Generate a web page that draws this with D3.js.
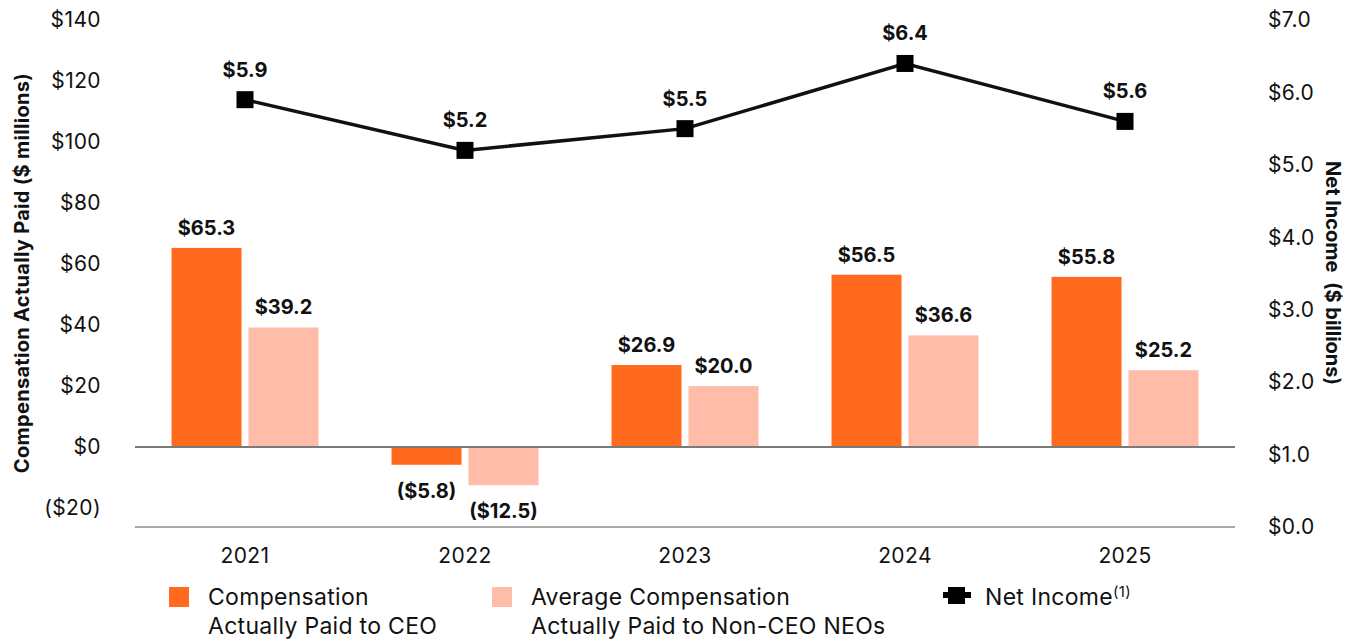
<!DOCTYPE html>
<html>
<head>
<meta charset="utf-8">
<script src="https://cdn.jsdelivr.net/npm/d3@7"></script>
<style>
  html, body { margin: 0; padding: 0; background: #fff; }
  svg { display: block; font-family: Inter, "Open Sans", sans-serif; }
</style>
</head>
<body>
<svg id="chart" width="1346" height="639"></svg>
<script>
// Fiscal years shown on the x axis
const years = ["2021", "2022", "2023", "2024", "2025"];
// Compensation actually paid ($ millions)
const ceoPay = [65.3, -5.8, 26.9, 56.5, 55.8];
const neoPay = [39.2, -12.5, 20.0, 36.6, 25.2];
// Net income ($ billions)
const netIncome = [5.9, 5.2, 5.5, 6.4, 5.6];
// Axis tick values
const leftTicks = [-20, 0, 20, 40, 60, 80, 100, 120, 140];
const rightTicks = [0, 1, 2, 3, 4, 5, 6, 7];

const ORANGE = "#ff6a1f";
const PEACH = "#ffbca8";

const svg = d3.select("#chart");
const plotLeft = 135, plotRight = 1235, plotTop = 20, plotBottom = 527;

const x = d3.scaleBand().domain(years).range([plotLeft, plotRight]).padding(0);
const yL = d3.scaleLinear().domain([-26.2, 140]).range([plotBottom, plotTop]);
const yR = d3.scaleLinear().domain([0, 7]).range([plotBottom, plotTop]);

const money = v => v < 0 ? `($${Math.abs(v).toFixed(1)})` : `$${v.toFixed(1)}`;
const moneyInt = v => v < 0 ? `($${Math.abs(v)})` : `$${v}`;

const tickStyle = sel => sel.attr("font-size", 21).attr("fill", "#111")
  .attr("font-family", "Inter").attr("letter-spacing", "0.4px");

// Left axis (tick labels only)
const leftAxis = svg.append("g")
  .attr("transform", `translate(${plotLeft - 34},0)`)
  .call(d3.axisLeft(yL).tickValues(leftTicks).tickSize(0).tickPadding(0).tickFormat(moneyInt));
leftAxis.select(".domain").remove();
leftAxis.selectAll("text").call(tickStyle);

// Right axis (tick labels only)
const rightAxis = svg.append("g")
  .attr("transform", `translate(${plotRight + 33},0)`)
  .call(d3.axisRight(yR).tickValues(rightTicks).tickSize(0).tickPadding(0).tickFormat(d => `$${d.toFixed(1)}`));
rightAxis.select(".domain").remove();
rightAxis.selectAll("text").call(tickStyle);

// Bottom baseline
svg.append("line").attr("x1", plotLeft).attr("x2", plotRight)
  .attr("y1", plotBottom).attr("y2", plotBottom)
  .attr("stroke", "#a8a8a8").attr("stroke-width", 2);

// Year labels
const xAxis = svg.append("g")
  .attr("transform", `translate(0,${plotBottom})`)
  .call(d3.axisBottom(x).tickSize(0).tickPadding(0));
xAxis.select(".domain").remove();
xAxis.selectAll("text").call(tickStyle).attr("y", 36).attr("dy", null);

// Bars
const barW = 70, gap = 3.5;
const center = d => x(d) + x.bandwidth() / 2;

const series = [
  { vals: ceoPay, color: ORANGE, off: -gap - barW },
  { vals: neoPay, color: PEACH, off: gap }
];
series.forEach(s => {
  svg.append("g").selectAll("rect").data(years).join("rect")
    .attr("x", d => center(d) + s.off)
    .attr("width", barW)
    .attr("y", (d, i) => yL(Math.max(0, s.vals[i])))
    .attr("height", (d, i) => Math.abs(yL(s.vals[i]) - yL(0)))
    .attr("fill", s.color);
  svg.append("g").selectAll("text").data(years).join("text")
    .attr("x", d => center(d) + s.off + barW / 2)
    .attr("y", (d, i) => s.vals[i] >= 0 ? yL(s.vals[i]) - 13 : yL(s.vals[i]) + 33)
    .attr("text-anchor", "middle")
    .attr("font-size", 20).attr("font-weight", 700).attr("fill", "#111")
    .text((d, i) => money(s.vals[i]));
});

// Zero line
svg.append("line").attr("x1", plotLeft).attr("x2", plotRight)
  .attr("y1", yL(0)).attr("y2", yL(0))
  .attr("stroke", "#7a7a7a").attr("stroke-width", 2);

// Net income line with square markers
const line = d3.line().x((d, i) => center(years[i])).y(d => yR(d));
svg.append("path").datum(netIncome).attr("d", line)
  .attr("fill", "none").attr("stroke", "#111").attr("stroke-width", 3.5);
const mk = 17;
svg.append("g").selectAll("rect").data(netIncome).join("rect")
  .attr("x", (d, i) => center(years[i]) - mk / 2)
  .attr("y", d => yR(d) - mk / 2)
  .attr("width", mk).attr("height", mk).attr("fill", "#000");
svg.append("g").selectAll("text").data(netIncome).join("text")
  .attr("x", (d, i) => center(years[i]))
  .attr("y", d => yR(d) - 23)
  .attr("text-anchor", "middle")
  .attr("font-size", 20).attr("font-weight", 700).attr("fill", "#111")
  .text(d => money(d));

// Axis titles
svg.append("text")
  .attr("transform", `translate(29,273) rotate(-90)`)
  .attr("text-anchor", "middle")
  .attr("font-size", 20).attr("font-weight", 700).attr("fill", "#111")
  .attr("letter-spacing", "0.3px")
  .text("Compensation Actually Paid ($ millions)");
svg.append("text")
  .attr("transform", `translate(1326,273) rotate(90)`)
  .attr("text-anchor", "middle")
  .attr("font-size", 20).attr("font-weight", 700).attr("fill", "#111")
  .attr("xml:space", "preserve")
  .text("Net Income  ($ billions)");

// Legend
const legend = svg.append("g").attr("font-size", 23).attr("fill", "#111").attr("letter-spacing", "0.3px");
const legendItems = [
  { x: 169, color: ORANGE, lines: ["Compensation", "Actually Paid to CEO"] },
  { x: 492, color: PEACH, lines: ["Average Compensation", "Actually Paid to Non-CEO NEOs"] }
];
legendItems.forEach(it => {
  legend.append("rect").attr("x", it.x).attr("y", 587).attr("width", 20).attr("height", 20).attr("fill", it.color);
  it.lines.forEach((t, j) => {
    legend.append("text").attr("x", it.x + 39).attr("y", 605 + j * 29).text(t);
  });
});
legend.append("line").attr("x1", 943).attr("x2", 971).attr("y1", 595).attr("y2", 595)
  .attr("stroke", "#000").attr("stroke-width", 6);
legend.append("rect").attr("x", 948).attr("y", 587).attr("width", 17).attr("height", 17).attr("fill", "#000");
const ni = legend.append("text").attr("x", 985).attr("y", 605);
ni.append("tspan").text("Net Income");
ni.append("tspan").attr("font-size", 15).attr("dy", -8).text("(1)");
</script>
</body>
</html>
